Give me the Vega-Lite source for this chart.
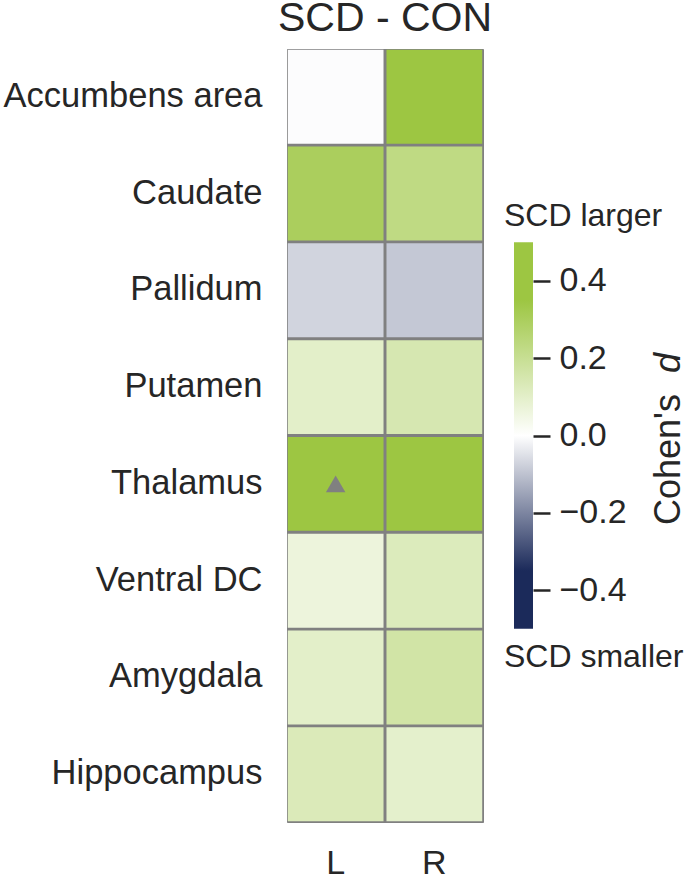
{
  "$schema": "https://vega.github.io/schema/vega-lite/v6.json",
  "padding": {"left": 2, "top": -3, "right": 0, "bottom": 0},
  "background": "white",
  "bounds": "flush",
  "config": {
    "font": "Liberation Sans",
    "concat": {"spacing": 31},
    "view": {"stroke": null},
    "axis": {"labelColor": "#262626", "titleColor": "#262626", "titleFontWeight": "normal", "grid": false}
  },
  "datasets": {
    "cells": [
      {"region": "Accumbens area", "hemi": "L", "d": -0.005, "sig": false},
      {"region": "Accumbens area", "hemi": "R", "d": 0.42, "sig": false},
      {"region": "Caudate", "hemi": "L", "d": 0.30, "sig": false},
      {"region": "Caudate", "hemi": "R", "d": 0.23, "sig": false},
      {"region": "Pallidum", "hemi": "L", "d": -0.07, "sig": false},
      {"region": "Pallidum", "hemi": "R", "d": -0.09, "sig": false},
      {"region": "Putamen", "hemi": "L", "d": 0.10, "sig": false},
      {"region": "Putamen", "hemi": "R", "d": 0.145, "sig": false},
      {"region": "Thalamus", "hemi": "L", "d": 0.45, "sig": true},
      {"region": "Thalamus", "hemi": "R", "d": 0.48, "sig": false},
      {"region": "Ventral DC", "hemi": "L", "d": 0.065, "sig": false},
      {"region": "Ventral DC", "hemi": "R", "d": 0.125, "sig": false},
      {"region": "Amygdala", "hemi": "L", "d": 0.10, "sig": false},
      {"region": "Amygdala", "hemi": "R", "d": 0.165, "sig": false},
      {"region": "Hippocampus", "hemi": "L", "d": 0.13, "sig": false},
      {"region": "Hippocampus", "hemi": "R", "d": 0.095, "sig": false}
    ],
    "bar": [{"lo": -0.5, "hi": 0.5}]
  },
  "hconcat": [
    {
      "width": 196,
      "height": 773,
      "view": {"fill": "#808080", "stroke": "#808080", "strokeWidth": 1},
      "title": {"text": "SCD - CON", "fontSize": 41, "fontWeight": "normal", "color": "#262626", "offset": 9},
      "data": {"name": "cells"},
      "encoding": {
        "x": {"field": "hemi", "type": "nominal", "sort": ["L", "R"],
              "scale": {"paddingInner": 0.03, "paddingOuter": 0.008},
              "axis": {"title": null, "labelAngle": 0, "ticks": false, "domain": false, "labelFontSize": 34, "labelPadding": 24}},
        "y": {"field": "region", "type": "nominal",
              "sort": ["Accumbens area", "Caudate", "Pallidum", "Putamen", "Thalamus", "Ventral DC", "Amygdala", "Hippocampus"],
              "scale": {"paddingInner": 0.03, "paddingOuter": 0.008},
              "axis": {"title": null, "ticks": false, "domain": false, "labelFontSize": 34.5, "labelPadding": 25, "labelLimit": 0}}
      },
      "layer": [
        {
          "mark": {"type": "rect"},
          "encoding": {
            "color": {"field": "d", "type": "quantitative", "legend": null,
                      "scale": {"domain": [-0.5, -0.35, 0, 0.35, 0.5], "range": ["#1b2a5a", "#1b2a5a", "#ffffff", "#9dc642", "#9dc642"], "interpolate": "rgb"}}
          }
        },
        {
          "transform": [{"filter": "datum.sig"}],
          "mark": {"type": "point", "shape": "triangle-up", "filled": true, "color": "#808080", "size": 380, "opacity": 1, "strokeWidth": 0}
        }
      ]
    },
    {
      "width": 19,
      "height": 773,
      "data": {"name": "bar"},
      "layer": [
        {
          "mark": {"type": "rect", "color": {"gradient": "linear", "x1": 0, "y1": 1, "x2": 0, "y2": 0,
            "stops": [
              {"offset": 0, "color": "#1b2a5a"},
              {"offset": 0.15, "color": "#1b2a5a"},
              {"offset": 0.5, "color": "#ffffff"},
              {"offset": 0.85, "color": "#9dc642"},
              {"offset": 1, "color": "#9dc642"}
            ]}},
          "encoding": {
            "x": {"datum": 0, "type": "quantitative", "scale": {"domain": [0, 1]}, "axis": null},
            "x2": {"datum": 1},
            "y": {"field": "lo", "type": "quantitative", "scale": {"domain": [-1, 1], "nice": false, "zero": false},
                  "axis": {"orient": "right", "values": [-0.4, -0.2, 0, 0.2, 0.4], "format": ".1f", "domain": false,
                           "tickSize": 17, "tickWidth": 2.5, "tickColor": "#262626", "labelPadding": 9, "labelFontSize": 34,
                           "title": null}},
            "y2": {"field": "hi"}
          }
        },
        {
          "mark": {"type": "text", "text": "SCD larger", "fontSize": 32, "color": "#262626", "baseline": "middle", "align": "left"},
          "encoding": {
            "x": {"datum": -0.53, "type": "quantitative"},
            "y": {"datum": 0.567, "type": "quantitative"}
          }
        },
        {
          "mark": {"type": "text", "text": "SCD smaller", "fontSize": 32, "color": "#262626", "baseline": "middle", "align": "left"},
          "encoding": {
            "x": {"datum": -0.53, "type": "quantitative"},
            "y": {"datum": -0.572, "type": "quantitative"}
          }
        },
        {
          "mark": {"type": "text", "text": "Cohen's", "fontSize": 36, "color": "#262626", "baseline": "top", "align": "left", "angle": 270},
          "encoding": {
            "x": {"datum": 7.26, "type": "quantitative"},
            "y": {"datum": -0.2316, "type": "quantitative"}
          }
        },
        {
          "mark": {"type": "text", "text": "d", "fontSize": 36, "fontStyle": "italic", "color": "#262626", "baseline": "top", "align": "right", "angle": 270},
          "encoding": {
            "x": {"datum": 7.26, "type": "quantitative"},
            "y": {"datum": 0.2134, "type": "quantitative"}
          }
        }
      ]
    }
  ],
  "resolve": {"scale": {"x": "independent", "y": "independent", "color": "independent"}}
}
